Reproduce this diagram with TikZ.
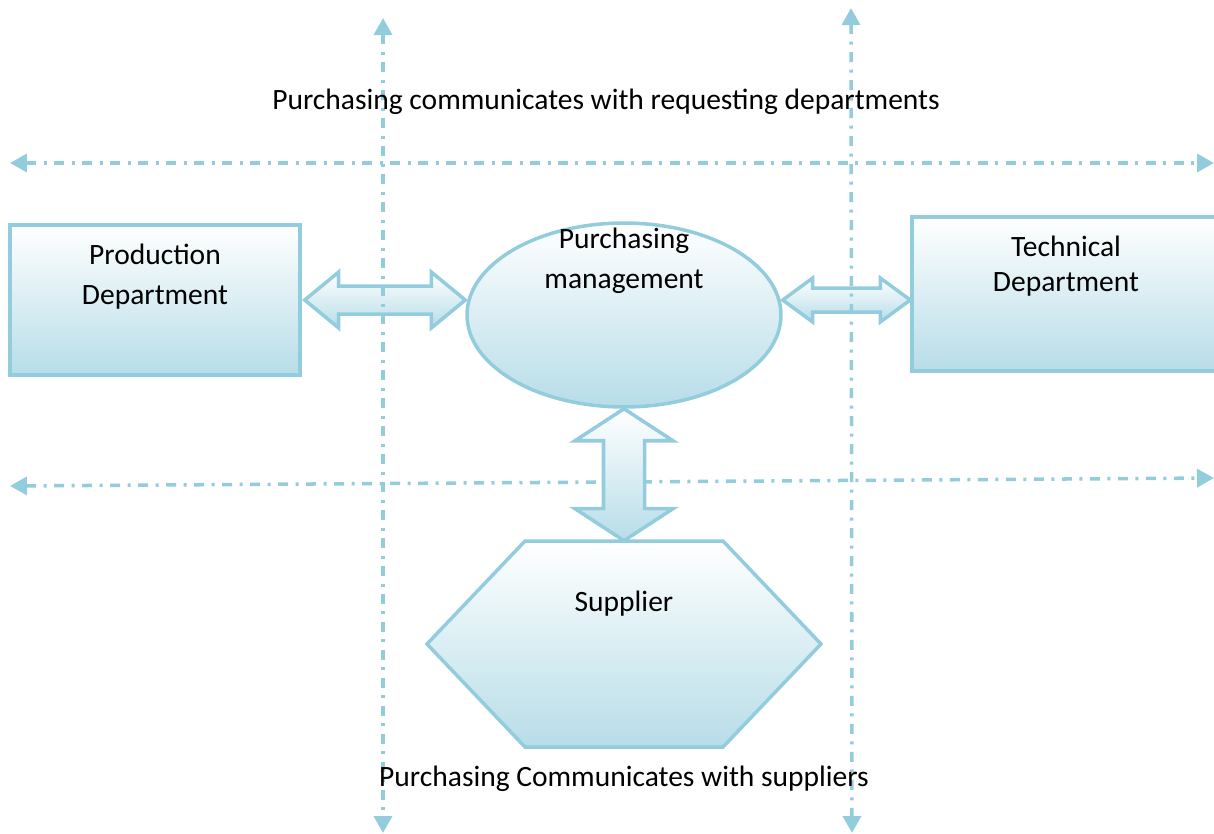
\documentclass[tikz,border=0pt]{standalone}
\usepackage{fontspec}
\setmainfont{Carlito}
\usepackage{tikz}
\usetikzlibrary{shapes.geometric}
\usetikzlibrary{arrows.meta}
\usetikzlibrary{calc}
\usepackage{xcolor}
\definecolor{aquaedge}{RGB}{147,205,221}
\definecolor{aquafill}{RGB}{183,221,232}
\tikzset{aquashade/.style={draw=aquaedge, line width=2pt, top color=white, bottom color=aquafill},
  deptbox/.style={aquashade, rectangle, inner sep=0pt},
  mgmtbox/.style={aquashade, ellipse, inner sep=0pt, minimum width=6.28cm, minimum height=3.68cm},
  fatarrow/.style={aquashade, line join=miter},
  boxtext/.style={align=center, inner sep=0pt, font=\fontsize{16.8}{23}\selectfont},
  guide/.style={draw=aquaedge, line width=2pt, dash pattern=on 0.2cm off 0.15cm on 0.06cm off 0.15cm,
    >={Triangle[length=3.4mm,width=3.6mm]}, <->}}

\begin{document}
\begin{tikzpicture}[x = 0.02cm, y = -0.02cm]
	\useasboundingbox (0,0) rectangle (1214,833);
	
	% free ends of the guide lines
	\coordinate (reqL) at (10,163);
	\coordinate (reqR) at (1214,163);
	\coordinate (supL) at (10,486);
	\coordinate (supR) at (1214,478);
	\coordinate (colAt) at (383,18);
	\coordinate (colAb) at (383,833);
	\coordinate (colBt) at (851,8);
	\coordinate (colBb) at (852,833);
	
	\draw[guide] (reqL) -- (reqR);
	\draw[guide] (supL) -- (supR);
	
	\node[deptbox, minimum width = 5.8cm, minimum height = 3cm,
		label = {[boxtext, anchor = north, yshift = -0.4cm]north:{Production\\Department}}] (prod) at (155,300) {};
	\node[mgmtbox,
		label = {[boxtext, anchor = north, yshift = -0.12cm]north:{Purchasing\\management}}] (mgmt) at (624,315) {};
	\node[deptbox, minimum width = 6.16cm, minimum height = 3.08cm,
		label = {[boxtext, anchor = north, yshift = -0.4cm]north:{Technical\\[-0.11cm]Department}}] (tech) at (1066,294) {};
	
	\coordinate (supc) at (624,644);
	\draw[aquashade] ($(supc)+(-99,-103)$) -- ($(supc)+(99,-103)$) -- ($(supc)+(197,0)$)
		-- ($(supc)+(99,103)$) -- ($(supc)+(-99,103)$) -- ($(supc)+(-197,0)$) -- cycle;
	\node[inner sep = 0pt, minimum width = 7.88cm, minimum height = 4.12cm,
		label = {[boxtext, anchor = north, yshift = -1cm]north:Supplier}] (sup) at (supc) {};
	
	% block arrows
	\draw[fatarrow] ($(prod.east)+(3,0)$) coordinate (pl) -- ++(34,-28) -- ++(0,14)
		-- ($(mgmt.west |- pl)+(-34,-14)$) -- ++(0,-14) -- (mgmt.west |- pl) -- ++(-34,28) -- ++(0,-14)
		-- ($(pl)+(34,14)$) -- ++(0,14) -- cycle;
	\draw[fatarrow] ($(mgmt.east)+(0,-15)$) coordinate (ml) -- ++(30,-22) -- ++(0,10)
		-- ($(tech.west |- ml)+(-30,-12)$) -- ++(0,-10) -- (tech.west |- ml) -- ++(-30,22) -- ++(0,-10)
		-- ($(ml)+(30,12)$) -- ++(0,10) -- cycle;
	\draw[fatarrow] (mgmt.south) -- ++(49,32) -- ++(-28.5,0)
		-- ($(sup.north)+(20.5,-32)$) -- ++(28.5,0) -- (sup.north) -- ++(-49,-32) -- ++(28.5,0)
		-- ($(mgmt.south)+(-20.5,32)$) -- ++(-28.5,0) -- cycle;
	
	\draw[guide] (colAt) -- (colAb);
	\draw[guide] (colBt) -- (colBb);
	
	\node[boxtext, anchor = base] (reqtext) at (606,109) {Purchasing communicates with requesting departments};
	\node[boxtext, anchor = base] (suptext) at (624,786) {Purchasing Communicates with suppliers};
\end{tikzpicture}
\end{document}
